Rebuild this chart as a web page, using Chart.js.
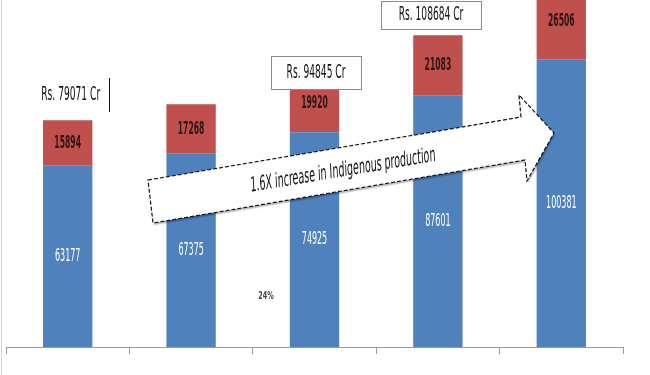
<!DOCTYPE html>
<html>
<head>
<meta charset="utf-8">
<script src="https://cdn.jsdelivr.net/npm/chart.js@4/dist/chart.umd.min.js"></script>
<style>
  html, body { margin: 0; padding: 0; background: #ffffff; }
  #wrap { width: 650px; height: 375px; position: relative; }
</style>
</head>
<body>
<div id="wrap"><canvas id="c" width="650" height="375"></canvas></div>
<script>
// ---- data ----
const categories = ['Year 1', 'Year 2', 'Year 3', 'Year 4', 'Year 5'];
const indigenousValues = [63177, 67375, 74925, 87601, 100381];
const importValues = [15894, 17268, 19920, 21083, 26506];
const totalCalloutBars = [0, 2, 3];   // bars whose totals are called out
const arrowText = '1.6X increase in Indigenous production';
const smallNote = '24%';

const TEXT_FONT = '"Liberation Sans Narrow", "DejaVu Sans Condensed", "Liberation Sans", sans-serif';

function stretchedText(ctx, text, x, y, font, color, sx, sy, angle) {
  ctx.save();
  ctx.translate(x, y);
  ctx.scale(sx, sy);
  ctx.rotate(angle || 0);
  ctx.font = font;
  ctx.fillStyle = color;
  ctx.textAlign = 'center';
  ctx.textBaseline = 'middle';
  ctx.fillText(text, 0, 0);
  ctx.restore();
}

const overlayPlugin = {
  id: 'overlay',
  afterDatasetsDraw(chart) {
    const ctx = chart.ctx;
    const blueMeta = chart.getDatasetMeta(0);
    const redMeta = chart.getDatasetMeta(1);

    // value labels inside segments
    blueMeta.data.forEach((el, i) => {
      const cy = (el.y + el.base) / 2;
      stretchedText(ctx, String(indigenousValues[i]), el.x, cy,
        '12px ' + TEXT_FONT, '#ffffff', 0.74, 1.45);
    });
    redMeta.data.forEach((el, i) => {
      const cy = (el.y + el.base) / 2;
      stretchedText(ctx, String(importValues[i]), el.x, cy,
        'bold 12px ' + TEXT_FONT, '#2a1414', 0.71, 1.45);
    });

    // thin left frame line
    ctx.save();
    ctx.strokeStyle = '#d0d0d0';
    ctx.lineWidth = 1;
    ctx.beginPath();
    ctx.moveTo(1.5, 0); ctx.lineTo(1.5, 375);
    ctx.stroke();
    ctx.restore();

    // big arrow
    const pts = [[148,180],[521,117],[519,95],[554,133],[527,181],[525,160],[153,223]];
    ctx.save();
    ctx.beginPath();
    pts.forEach((p, i) => i ? ctx.lineTo(p[0], p[1]) : ctx.moveTo(p[0], p[1]));
    ctx.closePath();
    ctx.shadowColor = 'rgba(0,0,0,0.3)';
    ctx.shadowBlur = 1.5;
    ctx.shadowOffsetX = 1;
    ctx.shadowOffsetY = 2;
    ctx.fillStyle = '#ffffff';
    ctx.fill();
    ctx.shadowColor = 'transparent';
    ctx.setLineDash([4, 2]);
    ctx.lineWidth = 1.2;
    ctx.strokeStyle = '#111111';
    ctx.stroke();
    ctx.restore();
    const asx = 0.88, asy = 1.7;
    const ang = Math.atan((-0.168) * asx / asy);
    stretchedText(ctx, arrowText, 343, 171, '12px ' + TEXT_FONT, '#111111', asx, asy, ang);

    // total callouts
    const totals = indigenousValues.map((v, i) => v + importValues[i]);
    const fmt = (i) => 'Rs. ' + totals[i] + ' Cr';
    const b0 = blueMeta.data[totalCalloutBars[0]];
    stretchedText(ctx, fmt(totalCalloutBars[0]), b0.x + 3, 95, '13px ' + TEXT_FONT, '#111111', 0.78, 1.45);
    ctx.save();
    ctx.strokeStyle = '#111111';
    ctx.lineWidth = 1;
    ctx.beginPath();
    ctx.moveTo(109.5, 78); ctx.lineTo(109.5, 112);
    ctx.stroke();
    ctx.restore();

    const boxes = [
      { i: totalCalloutBars[1], x: 271, y: 56, w: 90, h: 33 },
      { i: totalCalloutBars[2], x: 381, y: 1, w: 100, h: 28 }
    ];
    boxes.forEach(b => {
      ctx.save();
      ctx.fillStyle = '#ffffff';
      ctx.fillRect(b.x, b.y, b.w, b.h);
      ctx.strokeStyle = '#8c8c8c';
      ctx.lineWidth = 1;
      ctx.strokeRect(b.x + 0.5, b.y + 0.5, b.w, b.h);
      ctx.restore();
      stretchedText(ctx, fmt(b.i), b.x + b.w / 2, b.y + b.h / 2 + 0.5, '13px ' + TEXT_FONT, '#111111', 0.78, 1.45);
    });

    // tiny note
    stretchedText(ctx, smallNote, 266, 297, 'bold 8px ' + TEXT_FONT, '#444444', 0.9, 1.2);
  }
};

new Chart(document.getElementById('c'), {
  type: 'bar',
  data: {
    labels: categories,
    datasets: [
      { label: 'Indigenous production', data: indigenousValues, backgroundColor: '#4F81BD',
        barPercentage: 0.4, categoryPercentage: 1.0 },
      { label: 'Imports', data: importValues, backgroundColor: '#C0504D',
        barPercentage: 0.4, categoryPercentage: 1.0 }
    ]
  },
  options: {
    responsive: false,
    animation: false,
    devicePixelRatio: 1,
    layout: { padding: { left: 6, right: 27, top: 0, bottom: 21 } },
    plugins: { legend: { display: false }, tooltip: { enabled: false }, title: { display: false } },
    scales: {
      x: {
        stacked: true,
        grid: { display: true, drawOnChartArea: false, drawTicks: true, tickLength: 7,
                color: '#9a9a9a', offset: true },
        border: { display: true, color: '#9a9a9a', width: 1 },
        ticks: { display: false }
      },
      y: {
        stacked: true,
        display: false,
        min: 0,
        max: 121000
      }
    }
  },
  plugins: [overlayPlugin]
});
</script>
</body>
</html>
